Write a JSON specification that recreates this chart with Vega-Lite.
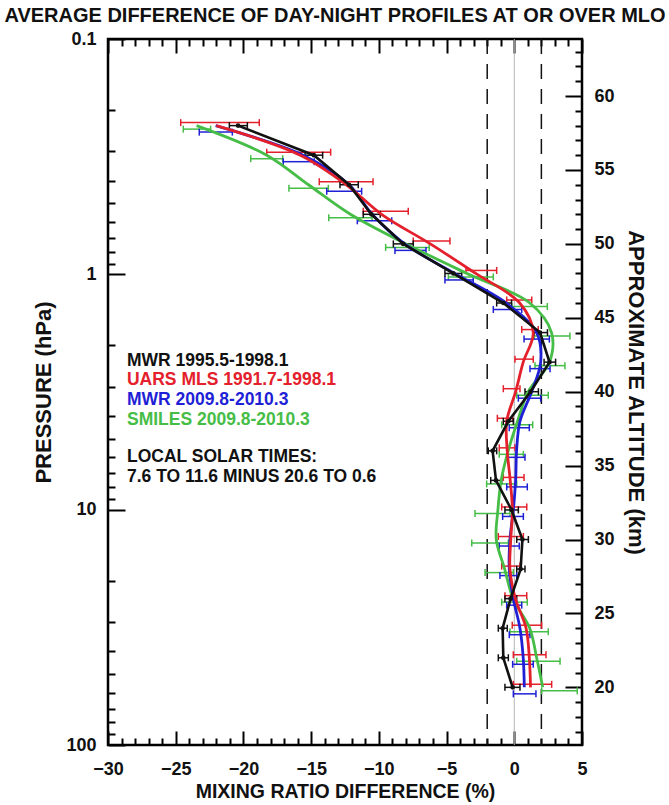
{
  "$schema": "https://vega.github.io/schema/vega-lite/v6.json",
  "width": 474,
  "height": 706,
  "autosize": {"type": "none"},
  "padding": {"left": 108, "top": 39, "right": 87, "bottom": 60},
  "background": "white",
  "title": {"text": "AVERAGE DIFFERENCE OF DAY-NIGHT PROFILES AT OR OVER MLO", "font": "Liberation Sans", "fontSize": 20, "fontWeight": "bold", "color": "#111111", "anchor": "middle", "frame": "group", "dx": -10, "offset": 4},
  "config": {
    "view": {"stroke": "#000000", "strokeWidth": 2.5},
    "axis": {"domain": false, "grid": false, "tickColor": "#000000", "tickWidth": 2, "labelFont": "Liberation Sans", "labelFontWeight": "bold", "labelFontSize": 18, "labelColor": "#111111", "labelFlush": false, "labelOverlap": false, "titleFont": "Liberation Sans", "titleFontWeight": "bold", "titleColor": "#111111", "titleFontSize": 20}
  },
  "datasets": {
    "profiles": [
      {"s": "MWR95", "alt": 58, "v": -20.4, "lo": -21.04, "hi": -19.71},
      {"s": "MWR95", "alt": 56, "v": -14.8, "lo": -15.45, "hi": -14.15},
      {"s": "MWR95", "alt": 54, "v": -12.2, "lo": -12.87, "hi": -11.52},
      {"s": "MWR95", "alt": 52, "v": -10.55, "lo": -11.15, "hi": -9.9},
      {"s": "MWR95", "alt": 50, "v": -8.2, "lo": -8.93, "hi": -7.46},
      {"s": "MWR95", "alt": 48, "v": -4.5, "lo": -5.12, "hi": -3.88},
      {"s": "MWR95", "alt": 46, "v": -0.8, "lo": -1.3, "hi": -0.2},
      {"s": "MWR95", "alt": 44, "v": 1.9, "lo": 1.45, "hi": 2.45},
      {"s": "MWR95", "alt": 42, "v": 2.6, "lo": 2.2, "hi": 3.05},
      {"s": "MWR95", "alt": 40, "v": 1.2, "lo": 0.79, "hi": 1.78},
      {"s": "MWR95", "alt": 38, "v": -0.44, "lo": -0.81, "hi": -0.07},
      {"s": "MWR95", "alt": 36, "v": -1.6, "lo": -1.92, "hi": -1.3},
      {"s": "MWR95", "alt": 34, "v": -1.35, "lo": -1.74, "hi": -0.93},
      {"s": "MWR95", "alt": 32, "v": -0.2, "lo": -0.69, "hi": 0.3},
      {"s": "MWR95", "alt": 30, "v": 0.6, "lo": 0.18, "hi": 1.04},
      {"s": "MWR95", "alt": 28, "v": 0.47, "lo": 0.18, "hi": 0.79},
      {"s": "MWR95", "alt": 26, "v": -0.27, "lo": -0.69, "hi": 0.18},
      {"s": "MWR95", "alt": 24, "v": -0.86, "lo": -1.18, "hi": -0.52},
      {"s": "MWR95", "alt": 22, "v": -0.81, "lo": -1.18, "hi": -0.44},
      {"s": "MWR95", "alt": 20, "v": -0.12, "lo": -0.69, "hi": 0.42},
      {"s": "MLS", "alt": 58, "v": -22.0, "lo": -24.63, "hi": -18.83},
      {"s": "MLS", "alt": 56, "v": -15.8, "lo": -18.28, "hi": -13.56},
      {"s": "MLS", "alt": 54, "v": -12.4, "lo": -14.4, "hi": -10.43},
      {"s": "MLS", "alt": 52, "v": -9.8, "lo": -11.15, "hi": -7.83},
      {"s": "MLS", "alt": 50, "v": -6.2, "lo": -7.46, "hi": -4.75},
      {"s": "MLS", "alt": 48, "v": -2.85, "lo": -3.57, "hi": -1.3},
      {"s": "MLS", "alt": 46, "v": 0.4, "lo": -0.56, "hi": 1.29},
      {"s": "MLS", "alt": 44, "v": 1.4, "lo": 0.55, "hi": 1.77},
      {"s": "MLS", "alt": 42, "v": 0.66, "lo": 0.05, "hi": 1.4},
      {"s": "MLS", "alt": 40, "v": 0.1, "lo": -0.81, "hi": 0.42},
      {"s": "MLS", "alt": 38, "v": -0.56, "lo": -1.25, "hi": -0.12},
      {"s": "MLS", "alt": 36, "v": -0.52, "lo": -1.11, "hi": 0.05},
      {"s": "MLS", "alt": 34, "v": -0.3, "lo": -0.81, "hi": 0.72},
      {"s": "MLS", "alt": 32, "v": -0.14, "lo": -0.93, "hi": 0.92},
      {"s": "MLS", "alt": 30, "v": -0.26, "lo": -1.18, "hi": 0.67},
      {"s": "MLS", "alt": 28, "v": -0.32, "lo": -0.93, "hi": 0.42},
      {"s": "MLS", "alt": 26, "v": 0.08, "lo": -0.69, "hi": 0.92},
      {"s": "MLS", "alt": 24, "v": 0.87, "lo": -0.15, "hi": 2.02},
      {"s": "MLS", "alt": 22, "v": 1.11, "lo": -0.07, "hi": 2.34},
      {"s": "MLS", "alt": 20, "v": 1.2, "lo": -0.07, "hi": 2.76},
      {"s": "MWR09", "alt": 58, "v": -22.05, "lo": -23.26, "hi": -20.82},
      {"s": "MWR09", "alt": 56, "v": -15.6, "lo": -17.06, "hi": -14.77},
      {"s": "MWR09", "alt": 54, "v": -12.2, "lo": -13.85, "hi": -11.27},
      {"s": "MWR09", "alt": 52, "v": -10.5, "lo": -11.59, "hi": -9.05},
      {"s": "MWR09", "alt": 50, "v": -8.1, "lo": -8.81, "hi": -6.52},
      {"s": "MWR09", "alt": 48, "v": -4.4, "lo": -5.12, "hi": -3.03},
      {"s": "MWR09", "alt": 46, "v": -0.6, "lo": -1.55, "hi": 0.55},
      {"s": "MWR09", "alt": 44, "v": 1.65, "lo": 0.72, "hi": 2.59},
      {"s": "MWR09", "alt": 42, "v": 1.95, "lo": 1.16, "hi": 2.64},
      {"s": "MWR09", "alt": 40, "v": 1.28, "lo": 0.3, "hi": 1.95},
      {"s": "MWR09", "alt": 38, "v": 0.42, "lo": -0.37, "hi": 1.11},
      {"s": "MWR09", "alt": 36, "v": 0.17, "lo": -0.52, "hi": 0.79},
      {"s": "MWR09", "alt": 34, "v": 0.1, "lo": -0.56, "hi": 0.96},
      {"s": "MWR09", "alt": 32, "v": -0.07, "lo": -0.86, "hi": 0.67},
      {"s": "MWR09", "alt": 30, "v": -0.32, "lo": -1.11, "hi": 0.37},
      {"s": "MWR09", "alt": 28, "v": -0.37, "lo": -1.06, "hi": 0.18},
      {"s": "MWR09", "alt": 26, "v": -0.07, "lo": -0.56, "hi": 0.55},
      {"s": "MWR09", "alt": 24, "v": 0.42, "lo": -0.37, "hi": 1.16},
      {"s": "MWR09", "alt": 22, "v": 0.66, "lo": -0.12, "hi": 1.4},
      {"s": "MWR09", "alt": 20, "v": 0.74, "lo": -0.07, "hi": 1.6},
      {"s": "SMILES", "alt": 58, "v": -23.46, "lo": -24.44, "hi": -22.42},
      {"s": "SMILES", "alt": 56, "v": -18.28, "lo": -19.46, "hi": -17.1},
      {"s": "SMILES", "alt": 54, "v": -15.2, "lo": -16.64, "hi": -13.73},
      {"s": "SMILES", "alt": 52, "v": -12.1, "lo": -13.7, "hi": -10.5},
      {"s": "SMILES", "alt": 50, "v": -8.0, "lo": -9.5, "hi": -6.28},
      {"s": "SMILES", "alt": 48, "v": -3.5, "lo": -4.87, "hi": -1.55},
      {"s": "SMILES", "alt": 46, "v": 1.15, "lo": -0.19, "hi": 2.44},
      {"s": "SMILES", "alt": 44, "v": 2.75, "lo": 1.48, "hi": 4.11},
      {"s": "SMILES", "alt": 42, "v": 2.6, "lo": 1.53, "hi": 3.74},
      {"s": "SMILES", "alt": 40, "v": 1.03, "lo": 0.18, "hi": 2.51},
      {"s": "SMILES", "alt": 38, "v": 0.24, "lo": -0.93, "hi": 1.36},
      {"s": "SMILES", "alt": 36, "v": -0.45, "lo": -1.11, "hi": 0.67},
      {"s": "SMILES", "alt": 34, "v": -0.97, "lo": -2.04, "hi": 0.18},
      {"s": "SMILES", "alt": 32, "v": -1.21, "lo": -2.9, "hi": -0.32},
      {"s": "SMILES", "alt": 30, "v": -1.33, "lo": -3.14, "hi": -0.44},
      {"s": "SMILES", "alt": 28, "v": -0.71, "lo": -2.16, "hi": -0.07},
      {"s": "SMILES", "alt": 26, "v": -0.09, "lo": -0.93, "hi": 0.96},
      {"s": "SMILES", "alt": 24, "v": 1.14, "lo": -0.32, "hi": 2.51},
      {"s": "SMILES", "alt": 22, "v": 1.65, "lo": 0.18, "hi": 3.38},
      {"s": "SMILES", "alt": 20, "v": 2.1, "lo": 2.02, "hi": 4.65}
    ],
    "pressureFrame": [{"p": 0.1, "x": -30}, {"p": 100, "x": 5}],
    "altitudeFrame": [{"alt": 16.1, "x": -30}, {"alt": 63.86, "x": 5}],
    "single": [{"n": 1}]
  },
  "resolve": {"scale": {"y": "independent"}, "axis": {"x": "independent", "y": "independent"}},
  "layer": [
    {"data": {"name": "pressureFrame"}, "mark": {"type": "point", "opacity": 0},
     "encoding": {
      "x": {"field": "x", "type": "quantitative", "scale": {"domain": [-30, 5], "nice": false, "zero": false}, "axis": {"orient": "bottom", "values": [-30, -25, -20, -15, -10, -5, 0, 5], "ticks": false, "labelPadding": 15, "title": "MIXING RATIO DIFFERENCE (%)", "titleFontSize": 19.5, "titlePadding": 4}},
      "y": {"field": "p", "type": "quantitative", "scale": {"type": "log", "domain": [0.1, 100], "reverse": true, "nice": false}, "axis": {"orient": "left", "values": [0.1, 1, 10, 100], "format": "~g", "ticks": false, "labelPadding": 12, "title": "PRESSURE (hPa)", "titleFontSize": 22, "titlePadding": 10}}
     }},
    {"data": {"name": "pressureFrame"}, "mark": {"type": "point", "opacity": 0},
     "encoding": {
      "x": {"field": "x", "type": "quantitative", "scale": {"domain": [-30, 5], "nice": false, "zero": false}, "axis": {"orient": "bottom", "values": [-30, -25, -20, -15, -10, -5, 0, 5], "labels": false, "tickSize": -14, "title": null}},
      "y": {"field": "p", "type": "quantitative", "scale": {"type": "log", "domain": [0.1, 100], "reverse": true, "nice": false}, "axis": {"orient": "left", "values": [0.1, 1, 10, 100], "labels": false, "tickSize": -17, "title": null}}
     }},
    {"data": {"name": "pressureFrame"}, "mark": {"type": "point", "opacity": 0},
     "encoding": {
      "x": {"field": "x", "type": "quantitative", "scale": {"domain": [-30, 5], "nice": false, "zero": false}, "axis": {"orient": "bottom", "values": [-29, -28, -27, -26, -24, -23, -22, -21, -19, -18, -17, -16, -14, -13, -12, -11, -9, -8, -7, -6, -4, -3, -2, -1, 1, 2, 3, 4], "labels": false, "tickSize": -7, "title": null}},
      "y": {"field": "p", "type": "quantitative", "scale": {"type": "log", "domain": [0.1, 100], "reverse": true, "nice": false}, "axis": {"orient": "left", "values": [0.2, 0.3, 0.4, 0.5, 0.6, 0.7, 0.8, 0.9, 2, 3, 4, 5, 6, 7, 8, 9, 20, 30, 40, 50, 60, 70, 80, 90], "labels": false, "tickSize": -7, "title": null}}
     }},
    {"data": {"name": "altitudeFrame"}, "mark": {"type": "point", "opacity": 0},
     "encoding": {
      "x": {"field": "x", "type": "quantitative", "scale": {"domain": [-30, 5], "nice": false, "zero": false}, "axis": {"orient": "top", "values": [-30, -25, -20, -15, -10, -5, 0, 5], "labels": false, "tickSize": -14, "title": null}},
      "y": {"field": "alt", "type": "quantitative", "scale": {"domain": [16.1, 63.86], "nice": false, "zero": false}, "axis": {"orient": "right", "values": [20, 25, 30, 35, 40, 45, 50, 55, 60], "ticks": false, "labelPadding": 12, "title": "APPROXIMATE ALTITUDE (km)", "titleFontSize": 22, "titleAngle": 90, "titlePadding": 9}}
     }},
    {"data": {"name": "altitudeFrame"}, "mark": {"type": "point", "opacity": 0},
     "encoding": {
      "x": {"field": "x", "type": "quantitative", "scale": {"domain": [-30, 5], "nice": false, "zero": false}, "axis": {"orient": "top", "values": [-29, -28, -27, -26, -24, -23, -22, -21, -19, -18, -17, -16, -14, -13, -12, -11, -9, -8, -7, -6, -4, -3, -2, -1, 1, 2, 3, 4], "labels": false, "tickSize": -7, "title": null}},
      "y": {"field": "alt", "type": "quantitative", "scale": {"domain": [16.1, 63.86], "nice": false, "zero": false}, "axis": {"orient": "right", "values": [20, 25, 30, 35, 40, 45, 50, 55, 60], "labels": false, "tickSize": -17, "title": null}}
     }},
    {"data": {"name": "altitudeFrame"}, "mark": {"type": "point", "opacity": 0},
     "encoding": {
      "y": {"field": "alt", "type": "quantitative", "scale": {"domain": [16.1, 63.86], "nice": false, "zero": false}, "axis": {"orient": "right", "values": [17, 18, 19, 21, 22, 23, 24, 26, 27, 28, 29, 31, 32, 33, 34, 36, 37, 38, 39, 41, 42, 43, 44, 46, 47, 48, 49, 51, 52, 53, 54, 56, 57, 58, 59, 61, 62, 63], "labels": false, "tickSize": -7, "title": null}}
     }},
    {"data": {"name": "single"}, "mark": {"type": "rule", "color": "#b4b4b4", "strokeWidth": 1},
     "encoding": {"x": {"datum": 0, "type": "quantitative", "scale": {"domain": [-30, 5], "nice": false, "zero": false}, "axis": null}}},
    {"data": {"name": "single"}, "mark": {"type": "rule", "color": "#111111", "strokeWidth": 1.5, "strokeDash": [15, 10]},
     "encoding": {"x": {"datum": -2, "type": "quantitative", "scale": {"domain": [-30, 5], "nice": false, "zero": false}, "axis": null}}},
    {"data": {"name": "single"}, "mark": {"type": "rule", "color": "#111111", "strokeWidth": 1.5, "strokeDash": [15, 10]},
     "encoding": {"x": {"datum": 2, "type": "quantitative", "scale": {"domain": [-30, 5], "nice": false, "zero": false}, "axis": null}}},

    {"data": {"name": "profiles"}, "transform": [{"filter": "datum.s === 'SMILES'"}], "mark": {"type": "rule", "color": "#46bd46", "strokeWidth": 1.5, "yOffset": 3.5},
     "encoding": {"x": {"field": "lo", "type": "quantitative", "scale": {"domain": [-30, 5], "nice": false, "zero": false}, "axis": null}, "x2": {"field": "hi"}, "y": {"field": "alt", "type": "quantitative", "scale": {"domain": [16.1, 63.86], "nice": false, "zero": false}, "axis": null}}},
    {"data": {"name": "profiles"}, "transform": [{"filter": "datum.s === 'SMILES'"}, {"fold": ["lo", "hi"], "as": ["end", "xv"]}], "mark": {"type": "tick", "orient": "vertical", "size": 7, "thickness": 1.5, "opacity": 1, "color": "#46bd46", "yOffset": 3.5},
     "encoding": {"x": {"field": "xv", "type": "quantitative", "scale": {"domain": [-30, 5], "nice": false, "zero": false}, "axis": null}, "y": {"field": "alt", "type": "quantitative", "scale": {"domain": [16.1, 63.86], "nice": false, "zero": false}, "axis": null}}},
    {"data": {"name": "profiles"}, "transform": [{"filter": "datum.s === 'MWR09'"}], "mark": {"type": "rule", "color": "#1f1fd6", "strokeWidth": 1.5, "yOffset": 6.5},
     "encoding": {"x": {"field": "lo", "type": "quantitative", "scale": {"domain": [-30, 5], "nice": false, "zero": false}, "axis": null}, "x2": {"field": "hi"}, "y": {"field": "alt", "type": "quantitative", "scale": {"domain": [16.1, 63.86], "nice": false, "zero": false}, "axis": null}}},
    {"data": {"name": "profiles"}, "transform": [{"filter": "datum.s === 'MWR09'"}, {"fold": ["lo", "hi"], "as": ["end", "xv"]}], "mark": {"type": "tick", "orient": "vertical", "size": 7, "thickness": 1.5, "opacity": 1, "color": "#1f1fd6", "yOffset": 6.5},
     "encoding": {"x": {"field": "xv", "type": "quantitative", "scale": {"domain": [-30, 5], "nice": false, "zero": false}, "axis": null}, "y": {"field": "alt", "type": "quantitative", "scale": {"domain": [16.1, 63.86], "nice": false, "zero": false}, "axis": null}}},
    {"data": {"name": "profiles"}, "transform": [{"filter": "datum.s === 'MLS'"}], "mark": {"type": "rule", "color": "#e3202b", "strokeWidth": 1.5, "yOffset": -3},
     "encoding": {"x": {"field": "lo", "type": "quantitative", "scale": {"domain": [-30, 5], "nice": false, "zero": false}, "axis": null}, "x2": {"field": "hi"}, "y": {"field": "alt", "type": "quantitative", "scale": {"domain": [16.1, 63.86], "nice": false, "zero": false}, "axis": null}}},
    {"data": {"name": "profiles"}, "transform": [{"filter": "datum.s === 'MLS'"}, {"fold": ["lo", "hi"], "as": ["end", "xv"]}], "mark": {"type": "tick", "orient": "vertical", "size": 7, "thickness": 1.5, "opacity": 1, "color": "#e3202b", "yOffset": -3},
     "encoding": {"x": {"field": "xv", "type": "quantitative", "scale": {"domain": [-30, 5], "nice": false, "zero": false}, "axis": null}, "y": {"field": "alt", "type": "quantitative", "scale": {"domain": [16.1, 63.86], "nice": false, "zero": false}, "axis": null}}},
    {"data": {"name": "profiles"}, "transform": [{"filter": "datum.s === 'MWR95'"}], "mark": {"type": "rule", "color": "#111111", "strokeWidth": 1.5},
     "encoding": {"x": {"field": "lo", "type": "quantitative", "scale": {"domain": [-30, 5], "nice": false, "zero": false}, "axis": null}, "x2": {"field": "hi"}, "y": {"field": "alt", "type": "quantitative", "scale": {"domain": [16.1, 63.86], "nice": false, "zero": false}, "axis": null}}},
    {"data": {"name": "profiles"}, "transform": [{"filter": "datum.s === 'MWR95'"}, {"fold": ["lo", "hi"], "as": ["end", "xv"]}], "mark": {"type": "tick", "orient": "vertical", "size": 7, "thickness": 1.5, "opacity": 1, "color": "#111111"},
     "encoding": {"x": {"field": "xv", "type": "quantitative", "scale": {"domain": [-30, 5], "nice": false, "zero": false}, "axis": null}, "y": {"field": "alt", "type": "quantitative", "scale": {"domain": [16.1, 63.86], "nice": false, "zero": false}, "axis": null}}},

    {"data": {"name": "profiles"}, "transform": [{"filter": "datum.s === 'SMILES'"}], "mark": {"type": "line", "color": "#46bd46", "strokeWidth": 2.8, "interpolate": "catmull-rom"},
     "encoding": {"x": {"field": "v", "type": "quantitative", "scale": {"domain": [-30, 5], "nice": false, "zero": false}, "axis": null}, "y": {"field": "alt", "type": "quantitative", "scale": {"domain": [16.1, 63.86], "nice": false, "zero": false}, "axis": null}, "order": {"field": "alt", "type": "quantitative"}}},
    {"data": {"name": "profiles"}, "transform": [{"filter": "datum.s === 'MWR09'"}], "mark": {"type": "line", "color": "#1f1fd6", "strokeWidth": 2.8, "interpolate": "catmull-rom"},
     "encoding": {"x": {"field": "v", "type": "quantitative", "scale": {"domain": [-30, 5], "nice": false, "zero": false}, "axis": null}, "y": {"field": "alt", "type": "quantitative", "scale": {"domain": [16.1, 63.86], "nice": false, "zero": false}, "axis": null}, "order": {"field": "alt", "type": "quantitative"}}},
    {"data": {"name": "profiles"}, "transform": [{"filter": "datum.s === 'MLS'"}], "mark": {"type": "line", "color": "#e3202b", "strokeWidth": 2.8, "interpolate": "catmull-rom"},
     "encoding": {"x": {"field": "v", "type": "quantitative", "scale": {"domain": [-30, 5], "nice": false, "zero": false}, "axis": null}, "y": {"field": "alt", "type": "quantitative", "scale": {"domain": [16.1, 63.86], "nice": false, "zero": false}, "axis": null}, "order": {"field": "alt", "type": "quantitative"}}},
    {"data": {"name": "profiles"}, "transform": [{"filter": "datum.s === 'MWR95'"}], "mark": {"type": "line", "color": "#111111", "strokeWidth": 2.6},
     "encoding": {"x": {"field": "v", "type": "quantitative", "scale": {"domain": [-30, 5], "nice": false, "zero": false}, "axis": null}, "y": {"field": "alt", "type": "quantitative", "scale": {"domain": [16.1, 63.86], "nice": false, "zero": false}, "axis": null}, "order": {"field": "alt", "type": "quantitative"}}},
    {"data": {"name": "profiles"}, "transform": [{"filter": "datum.s === 'MWR95'"}], "mark": {"type": "point", "filled": true, "opacity": 1, "size": 22, "color": "#111111"},
     "encoding": {"x": {"field": "v", "type": "quantitative", "scale": {"domain": [-30, 5], "nice": false, "zero": false}, "axis": null}, "y": {"field": "alt", "type": "quantitative", "scale": {"domain": [16.1, 63.86], "nice": false, "zero": false}, "axis": null}}},

    {"data": {"name": "single"}, "mark": {"type": "text", "text": "MWR 1995.5-1998.1", "align": "left", "baseline": "middle", "font": "Liberation Sans", "fontWeight": "bold", "fontSize": 17.5, "color": "#111111"},
     "encoding": {"x": {"datum": -28.6, "type": "quantitative", "scale": {"domain": [-30, 5], "nice": false, "zero": false}, "axis": null}, "y": {"datum": 42.08, "type": "quantitative", "scale": {"domain": [16.1, 63.86], "nice": false, "zero": false}, "axis": null}}},
    {"data": {"name": "single"}, "mark": {"type": "text", "text": "UARS MLS 1991.7-1998.1", "align": "left", "baseline": "middle", "font": "Liberation Sans", "fontWeight": "bold", "fontSize": 17.5, "color": "#e3202b"},
     "encoding": {"x": {"datum": -28.6, "type": "quantitative", "scale": {"domain": [-30, 5], "nice": false, "zero": false}, "axis": null}, "y": {"datum": 40.79, "type": "quantitative", "scale": {"domain": [16.1, 63.86], "nice": false, "zero": false}, "axis": null}}},
    {"data": {"name": "single"}, "mark": {"type": "text", "text": "MWR 2009.8-2010.3", "align": "left", "baseline": "middle", "font": "Liberation Sans", "fontWeight": "bold", "fontSize": 17.5, "color": "#1f1fd6"},
     "encoding": {"x": {"datum": -28.6, "type": "quantitative", "scale": {"domain": [-30, 5], "nice": false, "zero": false}, "axis": null}, "y": {"datum": 39.44, "type": "quantitative", "scale": {"domain": [16.1, 63.86], "nice": false, "zero": false}, "axis": null}}},
    {"data": {"name": "single"}, "mark": {"type": "text", "text": "SMILES 2009.8-2010.3", "align": "left", "baseline": "middle", "font": "Liberation Sans", "fontWeight": "bold", "fontSize": 17.5, "color": "#46bd46"},
     "encoding": {"x": {"datum": -28.6, "type": "quantitative", "scale": {"domain": [-30, 5], "nice": false, "zero": false}, "axis": null}, "y": {"datum": 38.1, "type": "quantitative", "scale": {"domain": [16.1, 63.86], "nice": false, "zero": false}, "axis": null}}},
    {"data": {"name": "single"}, "mark": {"type": "text", "text": "LOCAL SOLAR TIMES:", "align": "left", "baseline": "middle", "font": "Liberation Sans", "fontWeight": "bold", "fontSize": 17.5, "color": "#111111"},
     "encoding": {"x": {"datum": -28.6, "type": "quantitative", "scale": {"domain": [-30, 5], "nice": false, "zero": false}, "axis": null}, "y": {"datum": 35.58, "type": "quantitative", "scale": {"domain": [16.1, 63.86], "nice": false, "zero": false}, "axis": null}}},
    {"data": {"name": "single"}, "mark": {"type": "text", "text": "7.6 TO 11.6 MINUS 20.6 TO 0.6", "align": "left", "baseline": "middle", "font": "Liberation Sans", "fontWeight": "bold", "fontSize": 17.5, "color": "#111111"},
     "encoding": {"x": {"datum": -28.6, "type": "quantitative", "scale": {"domain": [-30, 5], "nice": false, "zero": false}, "axis": null}, "y": {"datum": 34.22, "type": "quantitative", "scale": {"domain": [16.1, 63.86], "nice": false, "zero": false}, "axis": null}}}
  ]
}
